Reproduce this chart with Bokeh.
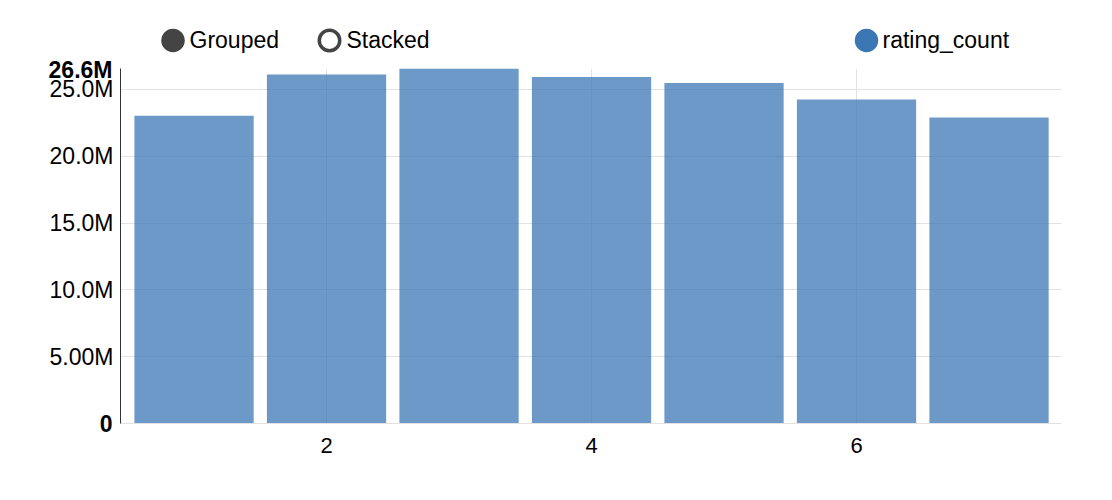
from bokeh.plotting import figure
from bokeh.models import Range1d, FixedTicker, CustomJSTickFormatter, LinearAxis
from bokeh.layouts import column
from bokeh.embed import file_html
from bokeh.resources import INLINE
from bokeh.core.properties import value

# ---- data ----
categories = [1, 2, 3, 4, 5, 6, 7]
rating_count = [23.03e6, 26.12e6, 26.57e6, 25.93e6, 25.48e6, 24.25e6, 22.91e6]
x_ticks = [2, 4, 6]
y_ticks = [5e6, 10e6, 15e6, 20e6, 25e6]
series_name = "rating_count"
mode_labels = ["Grouped", "Stacked"]

FONT = "Liberation Sans"
W = 1104
BORDER_L = 120
BORDER_R = 43
FRAME_L = BORDER_L
FRAME_R = W - BORDER_R
BAR_COLOR = "#3b77b5"
DARK = "#444444"
GRID = "#e2e2e2"
TICK_FS = 23
STANDOFF = 7

ymax = max(rating_count)
X0, X1 = 0.445, 7.547

# ---- header (legend / controls) ----
HH = 56
h = figure(width=W, height=HH, output_backend="svg", toolbar_location=None,
           x_range=Range1d(FRAME_L, FRAME_R), y_range=Range1d(HH, 0),
           x_axis_location=None, y_axis_location=None,
           min_border_left=BORDER_L, min_border_right=BORDER_R,
           min_border_top=0, min_border_bottom=0)
h.grid.visible = False
h.outline_line_color = None

h.scatter(x=[172.5], y=[40], size=23.5, marker="circle",
          fill_color=DARK, line_color=None)
h.scatter(x=[329], y=[40], size=20.5, marker="circle",
          fill_color="white", line_color=DARK, line_width=3.5)
h.scatter(x=[866], y=[40], size=23.5, marker="circle",
          fill_color=BAR_COLOR, line_color=None)
h.text(x=[189, 346, 882], y=[39, 39, 39],
       text=mode_labels + [series_name],
       text_font=value(FONT), text_font_size="23px",
       text_baseline="middle", text_align="left", text_color="#000000")

# ---- main chart ----
p = figure(width=W, height=436, output_backend="svg", toolbar_location=None,
           x_range=Range1d(X0, X1), y_range=Range1d(0, ymax),
           min_border_left=BORDER_L, min_border_right=BORDER_R,
           min_border_top=12, min_border_bottom=69)
p.outline_line_color = None

p.vbar(x=categories, top=rating_count, width=0.9,
       fill_color=BAR_COLOR, fill_alpha=0.75, line_color=None)

p.xaxis.ticker = FixedTicker(ticks=x_ticks)
p.xaxis.axis_line_color = GRID
p.xaxis.major_tick_out = 0
p.xaxis.major_tick_in = 0
p.xaxis.minor_tick_out = 0
p.xaxis.minor_tick_in = 0
p.xaxis.major_label_text_font = FONT
p.xaxis.major_label_text_font_size = "22px"
p.xaxis.major_label_text_color = "#000000"
p.xaxis.major_label_standoff = 14

fmt_code = """
const v = tick / 1e6;
if (v === 0) return "0";
if (v < 10) return v.toFixed(2) + "M";
return v.toFixed(1) + "M";
"""

p.yaxis.ticker = FixedTicker(ticks=y_ticks)
p.yaxis.formatter = CustomJSTickFormatter(code=fmt_code)
p.yaxis.axis_line_color = "#333333"
p.yaxis.axis_line_width = 1
p.yaxis.major_tick_out = 0
p.yaxis.major_tick_in = 0
p.yaxis.minor_tick_out = 0
p.yaxis.minor_tick_in = 0
p.yaxis.major_label_text_font = FONT
p.yaxis.major_label_text_font_size = f"{TICK_FS}px"
p.yaxis.major_label_text_color = "#000000"
p.yaxis.major_label_standoff = STANDOFF

p.xgrid.grid_line_color = GRID
p.ygrid.grid_line_color = GRID

# bold extreme labels: a second (outer) left axis whose negative standoff
# pulls its labels back onto the inner axis' label column
bold_ax = LinearAxis(ticker=FixedTicker(ticks=[0, ymax]),
                     formatter=CustomJSTickFormatter(code="""
const v = tick / 1e6;
if (v === 0) return "0";
return v.toFixed(1) + "M";
"""),
                     axis_line_color=None,
                     major_tick_out=0, major_tick_in=0,
                     minor_tick_out=0, minor_tick_in=0,
                     major_label_standoff=-66,
                     major_label_text_font=FONT,
                     major_label_text_font_size=f"{TICK_FS}px",
                     major_label_text_font_style="bold",
                     major_label_text_color="#000000")
p.add_layout(bold_ax, "left")

layout = column(h, p)
open("out.html", "w").write(file_html(layout, INLINE))
